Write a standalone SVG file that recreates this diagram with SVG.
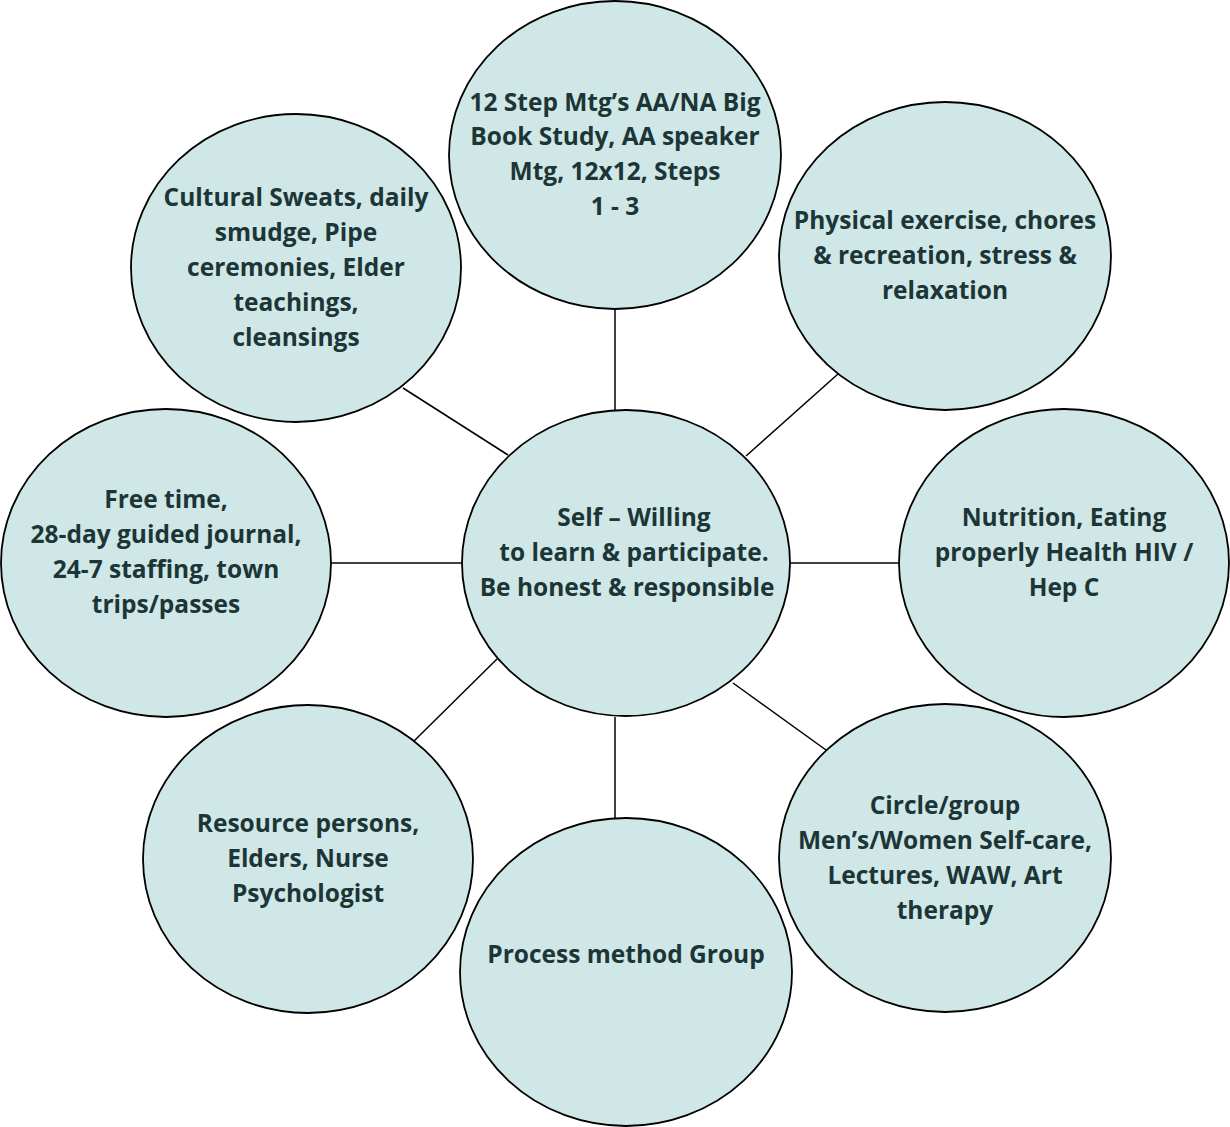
<svg xmlns="http://www.w3.org/2000/svg" width="1230" height="1127" viewBox="0 0 1230 1127">
<style>
.n{fill:#d0e7e7;stroke:#000;stroke-width:1.8}
.t{font-family:"Open Sans","Liberation Sans",sans-serif;font-weight:700;font-size:24.5px;fill:#1c3536;text-anchor:middle}
.c line{stroke:#000;stroke-width:1.5}
</style>
<rect width="1230" height="1127" fill="#fff"/>
<g class="c" id="connectors">
<line x1="615" y1="308" x2="615" y2="410"/>
<line x1="746" y1="456" x2="838" y2="374"/>
<line x1="790" y1="563" x2="899" y2="563"/>
<line x1="733" y1="683" x2="826" y2="750"/>
<line x1="615" y1="717" x2="615" y2="818"/>
<line x1="497" y1="659" x2="414" y2="741"/>
<line x1="331" y1="563" x2="462" y2="563"/>
<line x1="403" y1="388" x2="508" y2="455"/>
</g>
<g id="center"><ellipse class="n" cx="626" cy="563" rx="164" ry="153"/>
<text class="t" x="634" y="526">Self – Willing</text><text class="t" x="634" y="561">to learn &amp; participate.</text><text class="t" x="627" y="596">Be honest &amp; responsible</text></g>
<g id="top"><ellipse class="n" cx="615" cy="155" rx="166" ry="154"/>
<text class="t" x="615" y="111">12 Step Mtg’s AA/NA Big</text><text class="t" x="615" y="145">Book Study, AA speaker</text><text class="t" x="615" y="180">Mtg, 12x12, Steps</text><text class="t" x="615" y="215">1 - 3</text></g>
<g id="topright"><ellipse class="n" cx="945" cy="256" rx="166" ry="154"/>
<text class="t" x="945" y="229">Physical exercise, chores</text><text class="t" x="945" y="264">&amp; recreation, stress &amp;</text><text class="t" x="945" y="299">relaxation</text></g>
<g id="right"><ellipse class="n" cx="1064" cy="563" rx="165" ry="154"/>
<text class="t" x="1064" y="526">Nutrition, Eating</text><text class="t" x="1064" y="561">properly Health HIV /</text><text class="t" x="1064" y="596">Hep C</text></g>
<g id="bottomright"><ellipse class="n" cx="945" cy="858" rx="166" ry="154"/>
<text class="t" x="945" y="814">Circle/group</text><text class="t" x="945" y="849">Men’s/Women Self-care,</text><text class="t" x="945" y="884">Lectures, WAW, Art</text><text class="t" x="945" y="919">therapy</text></g>
<g id="bottom"><ellipse class="n" cx="626" cy="972" rx="166" ry="154"/>
<text class="t" x="626" y="963">Process method Group</text></g>
<g id="bottomleft"><ellipse class="n" cx="308" cy="859" rx="165" ry="154"/>
<text class="t" x="308" y="832">Resource persons,</text><text class="t" x="308" y="867">Elders, Nurse</text><text class="t" x="308" y="902">Psychologist</text></g>
<g id="left"><ellipse class="n" cx="166" cy="563" rx="165" ry="154"/>
<text class="t" x="166" y="508">Free time,</text><text class="t" x="166" y="543">28-day guided journal,</text><text class="t" x="166" y="578">24-7 staffing, town</text><text class="t" x="166" y="613">trips/passes</text></g>
<g id="topleft"><ellipse class="n" cx="296" cy="268" rx="165" ry="154"/>
<text class="t" x="296" y="206">Cultural Sweats, daily</text><text class="t" x="296" y="241">smudge, Pipe</text><text class="t" x="296" y="276">ceremonies, Elder</text><text class="t" x="296" y="311">teachings,</text><text class="t" x="296" y="346">cleansings</text></g>
</svg>
